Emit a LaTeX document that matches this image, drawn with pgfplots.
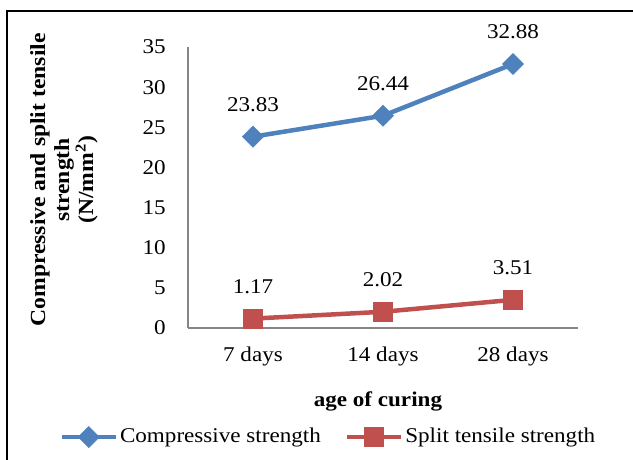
\documentclass[border=0pt]{standalone}
\usepackage{pgfplots}
\pgfplotsset{compat=1.18}
\usepackage{fontspec}
\setmainfont{Liberation Serif}[FakeStretch=1.1]
\definecolor{cblue}{HTML}{4F81BD}
\definecolor{cred}{HTML}{C0504D}
\definecolor{axgray}{HTML}{868686}
\begin{document}
\fontsize{21pt}{25pt}\selectfont
\begin{tikzpicture}[x=1pt,y=1pt]
\useasboundingbox (-188,-132) rectangle (445,328);
\draw[line width=2.5pt] (-181,-140) -- (-181,317) -- (450,317);
\begin{axis}[at={(0,0)}, anchor=south west, scale only axis,
  width=390pt, height=281pt,
  xmin=-0.5, xmax=2.5, ymin=0, ymax=35,
  ytick={0,5,...,35}, xtick={0,1,2},
  xticklabels={7 days,14 days,28 days},
  axis x line*=bottom, axis y line*=left,
  axis line style={axgray, line width=1.2pt, -},
  major tick length=0pt,
  tick label style={font=\fontsize{21}{25}\selectfont},
  /pgf/number format/assume math mode=true,
  yticklabel style={anchor=east, xshift=-15pt},
  xticklabel style={anchor=north, yshift=-12pt},
  clip=false,
  xlabel={\textbf{age of curing}},
  xlabel style={at={(axis description cs:0.487,-0.26)}, anchor=center, font=\fontsize{21}{25}\selectfont},
  ylabel={\textbf{Compressive and split tensile}\\\textbf{strength}\\\textbf{(N/mm\textsuperscript{2})}},
  ylabel style={at={(axis description cs:-0.318,0.527)}, anchor=center, align=center, font=\fontsize{21.5}{24}\selectfont},
  nodes near coords,
  point meta=explicit symbolic,
  every node near coord/.append style={black, anchor=center, yshift=32pt, font=\fontsize{21}{25}\selectfont},
  legend columns=2,
  legend style={at={(axis description cs:0.36,-0.388)}, anchor=center, draw=none, fill=none,
    font=\fontsize{21}{25}\selectfont,
    /tikz/every even column/.append style={column sep=22pt}},
  legend image code/.code={%
    \draw[mark repeat=2, mark phase=2] plot coordinates {(0pt,0pt) (27pt,0pt) (54pt,0pt)};},
]
\addplot[cblue, line width=4.5pt, mark=square*, mark size=7.5pt, mark options={rotate=45, solid, line width=0.5pt}]
  coordinates {(0,23.83)[23.83] (1,26.44)[26.44] (2,32.88)[32.88]};
\addlegendentry{Compressive strength}
\addplot[cred, line width=4.5pt, mark=square*, mark size=9.5pt, mark options={solid, line width=0.5pt}]
  coordinates {(0,1.17)[1.17] (1,2.02)[2.02] (2,3.51)[3.51]};
\addlegendentry{Split tensile strength}
\end{axis}
\end{tikzpicture}
\end{document}
